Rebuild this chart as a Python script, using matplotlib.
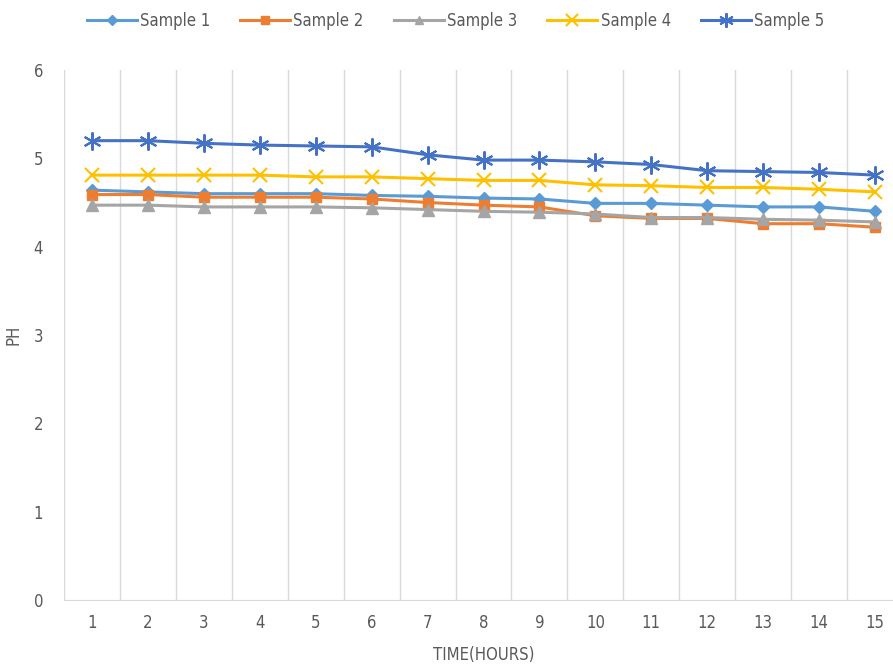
import matplotlib.pyplot as plt

hours = list(range(1, 16))
sample1 = [4.64, 4.62, 4.60, 4.60, 4.60, 4.58, 4.57, 4.55, 4.54, 4.49, 4.49, 4.47, 4.45, 4.45, 4.40]
sample2 = [4.59, 4.59, 4.56, 4.56, 4.56, 4.54, 4.50, 4.47, 4.45, 4.35, 4.32, 4.32, 4.26, 4.26, 4.22]
sample3 = [4.47, 4.47, 4.45, 4.45, 4.45, 4.44, 4.42, 4.40, 4.39, 4.37, 4.33, 4.33, 4.31, 4.30, 4.28]
sample4 = [4.81, 4.81, 4.81, 4.81, 4.79, 4.79, 4.77, 4.75, 4.75, 4.70, 4.69, 4.67, 4.67, 4.65, 4.62]
sample5 = [5.20, 5.20, 5.17, 5.15, 5.14, 5.13, 5.04, 4.98, 4.98, 4.96, 4.93, 4.86, 4.85, 4.84, 4.81]

plt.rcParams['font.family'] = ['DejaVu Sans']
plt.rcParams['font.stretch'] = 'condensed'

fig = plt.figure(figsize=(8.93, 6.68), dpi=100)
ax = fig.add_axes([64 / 893, 1 - 600 / 668, 839 / 893, 530 / 668])

# series styles, Excel default palette
ax.plot(hours, sample1, color="#5B9BD5", lw=2.2, marker="D", ms=6, label="Sample 1")
ax.plot(hours, sample2, color="#ED7D31", lw=2.2, marker="s", ms=7.5, label="Sample 2")
ax.plot(hours, sample3, color="#A5A5A5", lw=2.2, marker="^", ms=8, label="Sample 3")
ax.plot(hours, sample4, color="#FFC000", lw=2.2, marker="x", ms=10, mew=1.5, label="Sample 4")
ax.plot(hours, sample5, color="#4472C4", lw=2.2, marker=(6, 2, 0), ms=13, mew=1.5, label="Sample 5")

ax.set_xlim(0.5, 15.5)
ax.set_ylim(0, 6)
ax.set_xticks(hours)
ax.set_yticks(range(0, 7))

# vertical gridlines sit between categories
for b in range(0, 16):
    ax.axvline(b + 0.5, color="#D9D9D9", lw=1, zorder=0)

for s in ["top", "right", "left"]:
    ax.spines[s].set_visible(False)
ax.spines["bottom"].set_color("#D9D9D9")
ax.tick_params(length=0, labelsize=12, colors="#595959", pad=10)
ax.tick_params(axis="y", pad=15)

ax.set_xlabel("TIME(HOURS)", fontsize=12, color="#595959", labelpad=10)
ax.set_ylabel("PH", fontsize=12, color="#595959", labelpad=8)

fig.legend(loc="upper center", bbox_to_anchor=(0.51, 1.005), ncol=5, frameon=False,
           fontsize=12, handlelength=3, columnspacing=1.8, handletextpad=0.2,
           markerscale=0.8, labelcolor="#595959")

fig.savefig("out.png")
